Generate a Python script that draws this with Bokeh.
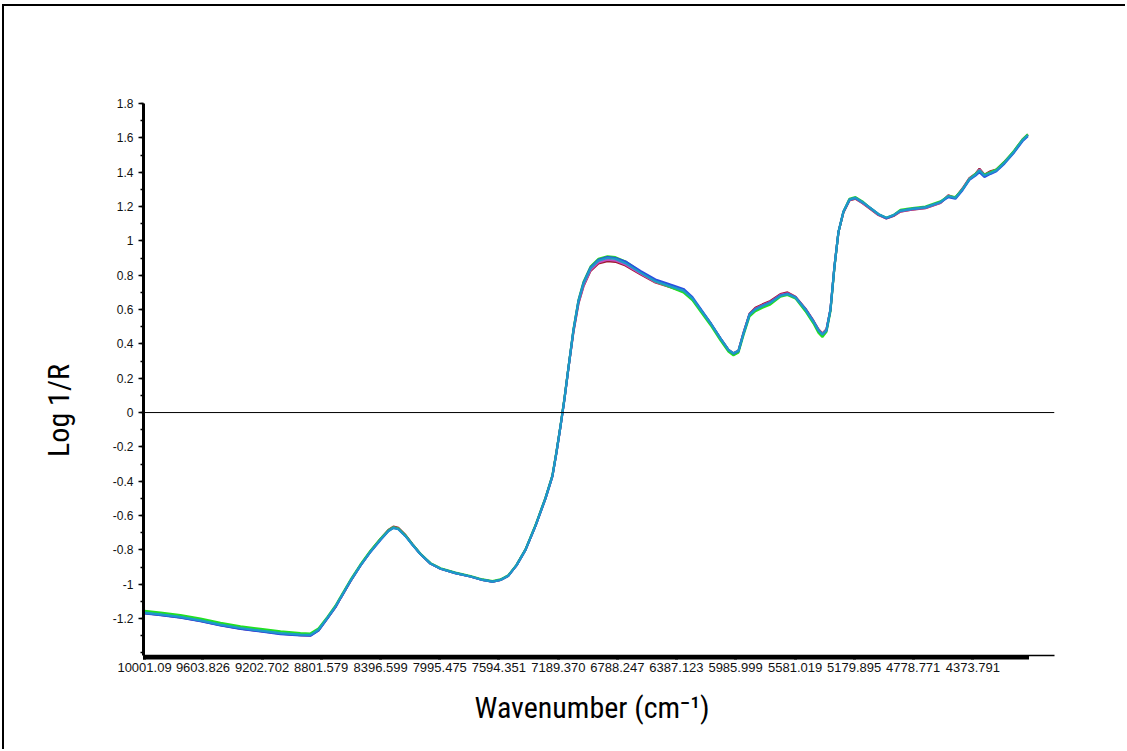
import numpy as np
from bokeh.plotting import figure
from bokeh.models import FixedTicker, Span, Range1d, LinearAxis
from bokeh.embed import file_html
from bokeh.resources import INLINE

# ---------------- data ----------------
wavenumber = [10001, 9892, 9757, 9621, 9485, 9349, 9213, 9077, 8942, 8874,
              8819, 8758, 8704, 8670, 8602, 8534, 8466, 8398, 8344, 8310,
              8276, 8228, 8181, 8126, 8058, 7990, 7889, 7787, 7705, 7637,
              7583, 7529, 7474, 7413, 7345, 7277, 7230, 7202, 7175, 7148,
              7121, 7087, 7053, 7019, 6971, 6917, 6856, 6802, 6734, 6632,
              6530, 6428, 6340, 6279, 6224, 6156, 6088, 6034, 6000, 5966,
              5932, 5891, 5851, 5803, 5749, 5681, 5633, 5579, 5511, 5457,
              5423, 5396, 5368, 5341, 5314, 5287, 5253, 5212, 5171, 5124,
              5069, 5015, 4961, 4913, 4866, 4798, 4696, 4594, 4540, 4492,
              4444, 4397, 4356, 4329, 4295, 4254, 4214, 4159, 4098, 4037,
              4000]

spec_red = [-1.168, -1.178, -1.193, -1.213, -1.238, -1.258, -1.273, -1.288, -1.296, -1.298,
            -1.268, -1.197, -1.133, -1.082, -0.982, -0.890, -0.808, -0.736, -0.684, -0.664,
            -0.672, -0.714, -0.767, -0.825, -0.880, -0.910, -0.935, -0.955, -0.975, -0.985,
            -0.975, -0.950, -0.890, -0.800, -0.660, -0.500, -0.370, -0.230, -0.080, 0.080,
            0.260, 0.470, 0.635, 0.735, 0.825, 0.868, 0.882, 0.878, 0.856, 0.805,
            0.758, 0.730, 0.705, 0.660, 0.600, 0.520, 0.430, 0.365, 0.345, 0.360,
            0.465, 0.575, 0.610, 0.630, 0.650, 0.690, 0.700, 0.675, 0.605, 0.535,
            0.485, 0.460, 0.485, 0.600, 0.850, 1.050, 1.165, 1.235, 1.245, 1.220,
            1.185, 1.150, 1.130, 1.145, 1.170, 1.180, 1.190, 1.220, 1.265, 1.250,
            1.305, 1.365, 1.390, 1.420, 1.385, 1.405, 1.415, 1.460, 1.515, 1.585,
            1.620]

spec_magenta = [-1.166, -1.176, -1.192, -1.212, -1.237, -1.257, -1.272, -1.287, -1.295, -1.297,
                -1.266, -1.195, -1.131, -1.081, -0.981, -0.890, -0.810, -0.738, -0.687, -0.668,
                -0.676, -0.717, -0.768, -0.825, -0.880, -0.910, -0.935, -0.955, -0.975, -0.985,
                -0.975, -0.950, -0.890, -0.800, -0.660, -0.500, -0.370, -0.230, -0.080, 0.080,
                0.260, 0.475, 0.640, 0.740, 0.830, 0.875, 0.890, 0.885, 0.862, 0.810,
                0.760, 0.732, 0.708, 0.662, 0.600, 0.520, 0.430, 0.365, 0.345, 0.360,
                0.462, 0.572, 0.605, 0.625, 0.645, 0.685, 0.695, 0.672, 0.602, 0.532,
                0.482, 0.458, 0.482, 0.600, 0.850, 1.050, 1.168, 1.238, 1.248, 1.222,
                1.188, 1.152, 1.132, 1.148, 1.172, 1.182, 1.192, 1.222, 1.262, 1.250,
                1.302, 1.362, 1.388, 1.415, 1.382, 1.400, 1.412, 1.458, 1.518, 1.590,
                1.620]

spec_green = [-1.155, -1.165, -1.180, -1.200, -1.225, -1.245, -1.260, -1.275, -1.285, -1.287,
              -1.258, -1.190, -1.125, -1.075, -0.975, -0.885, -0.805, -0.735, -0.685, -0.668,
              -0.676, -0.716, -0.767, -0.822, -0.877, -0.907, -0.932, -0.952, -0.972, -0.982,
              -0.972, -0.947, -0.887, -0.797, -0.655, -0.495, -0.365, -0.225, -0.075, 0.085,
              0.265, 0.485, 0.655, 0.760, 0.850, 0.895, 0.910, 0.905, 0.880, 0.820,
              0.765, 0.730, 0.700, 0.655, 0.590, 0.510, 0.420, 0.355, 0.333, 0.350,
              0.450, 0.560, 0.590, 0.610, 0.630, 0.675, 0.685, 0.665, 0.590, 0.520,
              0.465, 0.440, 0.470, 0.590, 0.845, 1.050, 1.170, 1.245, 1.255, 1.230,
              1.190, 1.155, 1.135, 1.150, 1.180, 1.190, 1.200, 1.230, 1.260, 1.255,
              1.300, 1.360, 1.390, 1.410, 1.385, 1.400, 1.415, 1.460, 1.520, 1.590,
              1.620]

spec_blue = [-1.170, -1.180, -1.195, -1.215, -1.240, -1.260, -1.275, -1.290, -1.298, -1.300,
             -1.270, -1.198, -1.133, -1.082, -0.982, -0.892, -0.812, -0.742, -0.690, -0.672,
             -0.680, -0.720, -0.770, -0.825, -0.880, -0.910, -0.935, -0.955, -0.975, -0.985,
             -0.975, -0.950, -0.890, -0.800, -0.660, -0.500, -0.370, -0.230, -0.080, 0.080,
             0.260, 0.480, 0.650, 0.755, 0.845, 0.890, 0.905, 0.900, 0.880, 0.825,
             0.775, 0.745, 0.720, 0.672, 0.605, 0.522, 0.432, 0.365, 0.343, 0.358,
             0.460, 0.572, 0.602, 0.622, 0.642, 0.682, 0.692, 0.672, 0.602, 0.532,
             0.480, 0.455, 0.478, 0.600, 0.850, 1.050, 1.170, 1.240, 1.250, 1.225,
             1.190, 1.155, 1.132, 1.148, 1.175, 1.185, 1.195, 1.225, 1.255, 1.245,
             1.295, 1.355, 1.380, 1.400, 1.372, 1.390, 1.405, 1.450, 1.510, 1.580,
             1.610]

spec_teal = [-1.165, -1.175, -1.190, -1.210, -1.235, -1.255, -1.270, -1.285, -1.293, -1.295,
             -1.265, -1.194, -1.130, -1.080, -0.980, -0.890, -0.810, -0.740, -0.690, -0.672,
             -0.680, -0.720, -0.770, -0.825, -0.880, -0.910, -0.935, -0.955, -0.975, -0.985,
             -0.975, -0.950, -0.890, -0.800, -0.660, -0.500, -0.370, -0.230, -0.080, 0.080,
             0.260, 0.480, 0.650, 0.750, 0.840, 0.885, 0.900, 0.895, 0.870, 0.815,
             0.765, 0.735, 0.710, 0.665, 0.600, 0.520, 0.430, 0.365, 0.345, 0.360,
             0.460, 0.570, 0.600, 0.620, 0.640, 0.680, 0.690, 0.670, 0.600, 0.530,
             0.480, 0.455, 0.480, 0.600, 0.850, 1.050, 1.170, 1.240, 1.250, 1.225,
             1.190, 1.155, 1.135, 1.150, 1.175, 1.185, 1.195, 1.225, 1.260, 1.250,
             1.300, 1.360, 1.385, 1.410, 1.380, 1.395, 1.410, 1.455, 1.515, 1.585,
             1.615]

series_names = ["red", "magenta", "green", "blue", "teal"]
series_values = [spec_red, spec_magenta, spec_green, spec_blue, spec_teal]
series_colors = ["#a01830", "#c050c0", "#22e022", "#2a4ee0", "#1d9ac8"]

x_tick_labels = ["10001.09", "9603.826", "9202.702", "8801.579", "8396.599",
                 "7995.475", "7594.351", "7189.370", "6788.247", "6387.123",
                 "5985.999", "5581.019", "5179.895", "4778.771", "4373.791"]
x_tick_values = [float(s) for s in x_tick_labels]

y_tick_labels = ["-1.2", "-1", "-0.8", "-0.6", "-0.4", "-0.2", "0",
                 "0.2", "0.4", "0.6", "0.8", "1", "1.2", "1.4", "1.6", "1.8"]
y_tick_values = [float(s) for s in y_tick_labels]

x_title = "Wavenumber (cm\u207b\u00b9)"
y_title = "Log 1/R"

# ---------------- figure ----------------
TICK_FONT = "Liberation Sans"
TITLE_FONT = "Roboto Condensed"
NBSP = "\u00a0"

# the page has no body margin: the figure is placed at (4, 6) and a shadow
# draws the picture border on its top and left edges
p = figure(width=1123, height=745, output_backend="svg", toolbar_location=None,
           x_range=Range1d(10008, 3819), y_range=Range1d(-1.415, 1.8),
           min_border_left=139, min_border_right=73, min_border_top=97,
           min_border_bottom=96)
p.styles = {"margin-left": "4px", "margin-top": "6px",
            "background-color": "#ffffff",
            "box-shadow": "-2px -2px 0px 0px #000000"}
p.grid.visible = False
p.outline_line_color = None
p.background_fill_color = "white"
p.border_fill_color = "white"

for vals, col in zip(series_values, series_colors):
    p.line(wavenumber, vals, line_color=col, line_width=2.2)

zero = Span(location=0, dimension="width", line_color="black", line_width=1)
p.add_layout(zero)

# x axis: dense tick marks across the data range form the thick bar
xa = p.xaxis[0]
dense = list(np.arange(min(wavenumber), max(wavenumber), 10.0))
xa.ticker = FixedTicker(ticks=x_tick_values, minor_ticks=dense)
xa.major_label_overrides = {v: s for v, s in zip(x_tick_values, x_tick_labels)}
xa.axis_line_color = "black"
xa.axis_line_width = 1.5
xa.major_tick_in = 0
xa.major_tick_out = 4
xa.minor_tick_in = 0
xa.minor_tick_out = 4
xa.major_tick_line_width = 3
xa.minor_tick_line_width = 3
xa.major_tick_line_color = "black"
xa.minor_tick_line_color = "black"
xa.major_label_standoff = 3
xa.major_label_text_font = TICK_FONT
xa.major_label_text_font_size = "13px"
xa.major_label_text_color = "#111111"
xa.axis_label = x_title + NBSP * 2
xa.axis_label_text_font = TITLE_FONT
xa.axis_label_text_font_size = "30px"
xa.axis_label_text_font_style = "normal"
xa.axis_label_text_color = "black"
xa.axis_label_standoff = 15

ya = p.yaxis[0]
y_minor = [round(v, 1) for v in np.arange(-1.4, 1.81, 0.1)]
ya.ticker = FixedTicker(ticks=y_tick_values, minor_ticks=y_minor)
ya.major_label_overrides = {v: s for v, s in zip(y_tick_values, y_tick_labels)}
ya.axis_line_color = "black"
ya.axis_line_width = 3
ya.major_tick_in = 0
ya.major_tick_out = 5
ya.minor_tick_in = 0
ya.minor_tick_out = 3
ya.major_tick_line_width = 1.5
ya.minor_tick_line_width = 1.5
ya.major_label_standoff = 5
ya.major_label_text_font = TICK_FONT
ya.major_label_text_font_size = "12px"
ya.major_label_text_color = "#111111"

# title axis: carries only the y title
title_axis = LinearAxis(axis_label=y_title + NBSP * 9, ticker=FixedTicker(ticks=[]),
                        bounds=(-1.4, 1.4))
title_axis.axis_line_color = None
title_axis.major_tick_line_color = None
title_axis.minor_tick_line_color = None
title_axis.axis_label_text_font = TITLE_FONT
title_axis.axis_label_text_font_size = "30px"
title_axis.axis_label_text_font_style = "normal"
title_axis.axis_label_text_color = "black"
title_axis.axis_label_standoff = 34
p.add_layout(title_axis, "left")

open("out.html", "w").write(file_html(p, INLINE))
